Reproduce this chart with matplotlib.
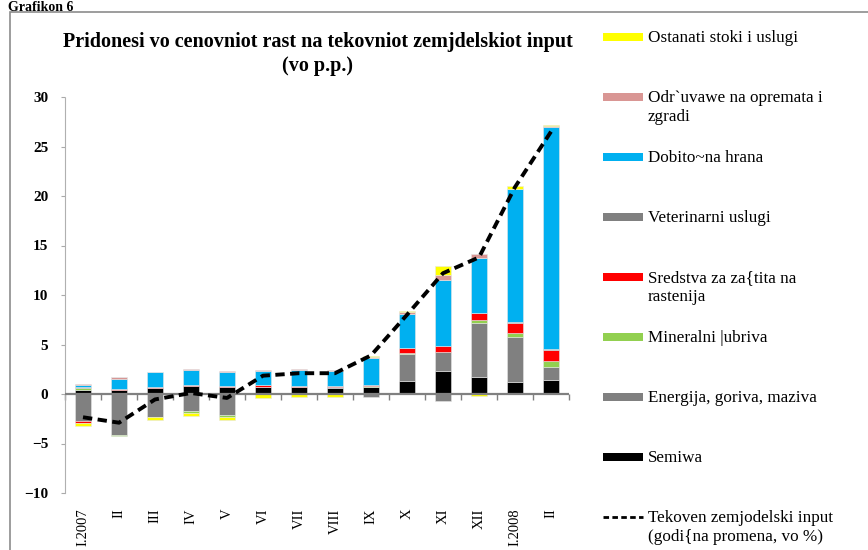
import numpy as np
import matplotlib
matplotlib.use("Agg")
import matplotlib.pyplot as plt
from matplotlib.patches import Rectangle
from matplotlib.lines import Line2D

categories = ['I.2007', 'II', 'III', 'IV', 'V', 'VI', 'VII', 'VIII', 'IX', 'X', 'XI', 'XII', 'I.2008', 'II']

semiwa      = [0.45, 0.45, 0.65, 0.85, 0.75, 0.75, 0.75, 0.60, 0.75, 1.30, 2.30, 1.70, 1.20, 1.45]
energija    = [-2.75, -4.10, -2.35, -1.70, -2.10, 0.00, 0.00, 0.15, -0.30, 2.70, 1.95, 5.50, 4.60, 1.25]
mineralni   = [0.15, -0.12, 0.00, -0.22, -0.20, 0.00, 0.00, 0.00, 0.05, 0.13, 0.00, 0.30, 0.34, 0.67]
sredstva    = [-0.13, 0.05, 0.08, 0.10, 0.10, 0.20, 0.10, 0.10, 0.15, 0.47, 0.57, 0.68, 1.00, 1.08]
veterinarni = [0.10, 0.00, 0.00, 0.00, 0.00, 0.00, 0.00, 0.00, 0.00, 0.00, -0.67, 0.00, 0.10, 0.05]
dobitocna   = [0.25, 1.05, 1.45, 1.50, 1.40, 1.40, 1.55, 1.50, 2.70, 3.45, 6.70, 5.60, 13.45, 22.50]
odrzuvanje  = [0.05, 0.12, 0.07, 0.08, 0.07, 0.12, 0.10, 0.10, 0.10, 0.20, 0.45, 0.40, 0.05, 0.05]
ostanati    = [-0.35, 0.00, -0.30, -0.30, -0.30, -0.40, -0.35, -0.30, 0.10, 0.10, 1.00, -0.20, 0.25, 0.15]
tekoven     = [-2.35, -2.90, -0.55, 0.10, -0.40, 1.85, 2.10, 2.10, 3.90, 8.00, 12.20, 13.80, 20.90, 26.50]

series_labels = ['Semiwa', 'Energija, goriva, maziva', 'Mineralni |ubriva',
                 'Sredstva za za{tita na\nrastenija', 'Veterinarni uslugi', 'Dobito~na hrana',
                 'Odr`uvawe na opremata i\nzgradi', 'Ostanati stoki i uslugi']
series_values = [semiwa, energija, mineralni, sredstva, veterinarni, dobitocna, odrzuvanje, ostanati]
series_colors = ['#000000', '#808080', '#92D050', '#FF0000', '#808080', '#00B0F0', '#D99694', '#FFFF00']
line_label = 'Tekoven zemjodelski input\n(godi{na promena, vo %)'
title = 'Pridonesi vo cenovniot rast na tekovniot zemjdelskiot input\n(vo p.p.)'

W, H = 868, 550
fig = plt.figure(figsize=(W / 100, H / 100), dpi=100)
serif = 'Liberation Serif'

# outer frame
fig.add_artist(Rectangle((10 / W, -0.05), 1.2, 1 - 12 / H + 0.05, transform=fig.transFigure,
                         fill=False, edgecolor='#8c8c8c', lw=1.2))
fig.text(8 / W, 1 - 11 / H, 'Grafikon 6', fontfamily=serif, fontweight='bold', fontsize=10,
         ha='left', va='baseline')

ax = fig.add_axes([65 / W, 1 - 493 / H, (569 - 65) / W, (493 - 97) / H])
x = np.arange(len(categories))
pos = np.zeros(len(categories))
neg = np.zeros(len(categories))
for vals, col in zip(series_values, series_colors):
    v = np.array(vals, dtype=float)
    bottom = np.where(v >= 0, pos, neg)
    ax.bar(x, v, width=0.43, bottom=bottom, color=col, edgecolor='#e6e6e6', linewidth=0.4, zorder=2)
    pos = pos + np.where(v >= 0, v, 0)
    neg = neg + np.where(v < 0, v, 0)

ax.axhline(0, color='#808080', lw=1.6, zorder=3)
ax.plot(x, tekoven, color='black', lw=2.8, linestyle=(0, (2.4, 1.4)), zorder=5)

ax.set_xlim(-0.5, len(categories) - 0.5)
ax.set_ylim(-10, 30)
ax.set_yticks(np.arange(-10, 31, 5))
ax.set_xticks(x)
ax.set_xticklabels(categories, rotation=90, fontfamily=serif, fontsize=10.5)
ax.tick_params(axis='x', length=0, pad=11)
ax.tick_params(axis='y', length=3, color='#aaaaaa', pad=9)
for lab in ax.get_yticklabels():
    lab.set_fontfamily(serif)
    lab.set_fontweight('bold')
    lab.set_fontsize(11)
for s in ['top', 'right', 'bottom']:
    ax.spines[s].set_visible(False)
ax.spines['left'].set_color('#b0b0b0')
ax.spines['left'].set_linestyle((0, (2, 1)))
ax.spines['left'].set_linewidth(0.8)

# tick marks on the zero line between categories
sec = ax.secondary_xaxis(10 / 40)
sec.set_xticks(np.arange(-0.5, len(categories), 1.0))
sec.tick_params(axis='x', direction='out', length=4, color='#808080', width=1, labelbottom=False)
sec.set_xticklabels([])
sec.spines['bottom'].set_visible(False)

fig.text(318 / W, 1 - 54 / H, title, fontfamily=serif, fontweight='bold', fontsize=14.5,
         ha='center', va='center', linespacing=1.2)

# manual legend (reversed series order, then line)
ys = [37, 97, 157, 217, 277, 337, 397, 457]
fs_leg = 12.3
for i, (lab, col) in enumerate(zip(series_labels[::-1], series_colors[::-1])):
    yc = ys[i]
    fig.add_artist(Rectangle((603 / W, 1 - (yc + 4) / H), 40 / W, 8 / H, transform=fig.transFigure,
                             facecolor=col, edgecolor='none'))
    fig.text(648 / W, 1 - (yc - 7) / H, lab, fontfamily=serif, fontsize=fs_leg,
             ha='left', va='top', linespacing=1.25)
yc = 517
fig.add_artist(Line2D([603 / W, 643 / W], [1 - yc / H, 1 - yc / H], transform=fig.transFigure,
                      color='black', lw=2, linestyle=(0, (2, 1.2))))
fig.text(648 / W, 1 - (yc - 7) / H, line_label, fontfamily=serif, fontsize=fs_leg,
         ha='left', va='top', linespacing=1.25)

fig.savefig('out.png', dpi=100)
